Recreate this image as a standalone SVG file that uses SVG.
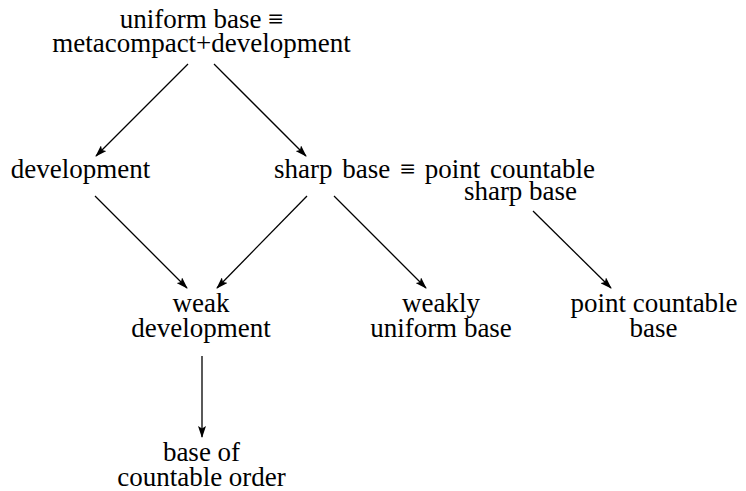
<svg xmlns="http://www.w3.org/2000/svg" width="746" height="491" viewBox="0 0 746 491">
<defs>
<marker id="ah" markerWidth="12" markerHeight="8" refX="11" refY="4" orient="auto" markerUnits="userSpaceOnUse">
<path d="M0,0 L12,4 L0,8 L2.5,4 Z" fill="#000"/>
</marker>
<style>
.e{stroke:#000;stroke-width:1.3;fill:none;marker-end:url(#ah)}
</style>
</defs>
<rect width="746" height="491" fill="#fff"/>
<g id="nodes" font-family="Liberation Serif" font-size="27" fill="#000" text-anchor="middle">
<g id="n-uniform">
<text x="201.5" y="28">uniform base ≡</text>
<text x="201.5" y="52">metacompact+development</text>
</g>
<g id="n-development">
<text x="80.5" y="178">development</text>
</g>
<g id="n-sharp">
<text x="434.5" y="178" word-spacing="3">sharp base ≡ point countable</text>
<text x="520.5" y="200">sharp base</text>
</g>
<g id="n-weakdev">
<text x="201" y="312">weak</text>
<text x="201" y="337">development</text>
</g>
<g id="n-weaklyuniform">
<text x="441" y="312">weakly</text>
<text x="441" y="337">uniform base</text>
</g>
<g id="n-pointcountable">
<text x="654" y="312">point countable</text>
<text x="653.5" y="337">base</text>
</g>
<g id="n-countableorder">
<text x="201.5" y="461">base of</text>
<text x="201.5" y="486">countable order</text>
</g>
</g>
<g id="connectors">
<line class="e" x1="188" y1="64" x2="96" y2="156"/>
<line class="e" x1="214" y1="64" x2="306" y2="156"/>
<line class="e" x1="95" y1="196" x2="187" y2="288"/>
<line class="e" x1="307" y1="196" x2="217" y2="288"/>
<line class="e" x1="334" y1="196" x2="426" y2="288"/>
<line class="e" x1="533" y1="211" x2="611" y2="288"/>
<line class="e" x1="202" y1="356" x2="202" y2="437"/>
</g>
</svg>
